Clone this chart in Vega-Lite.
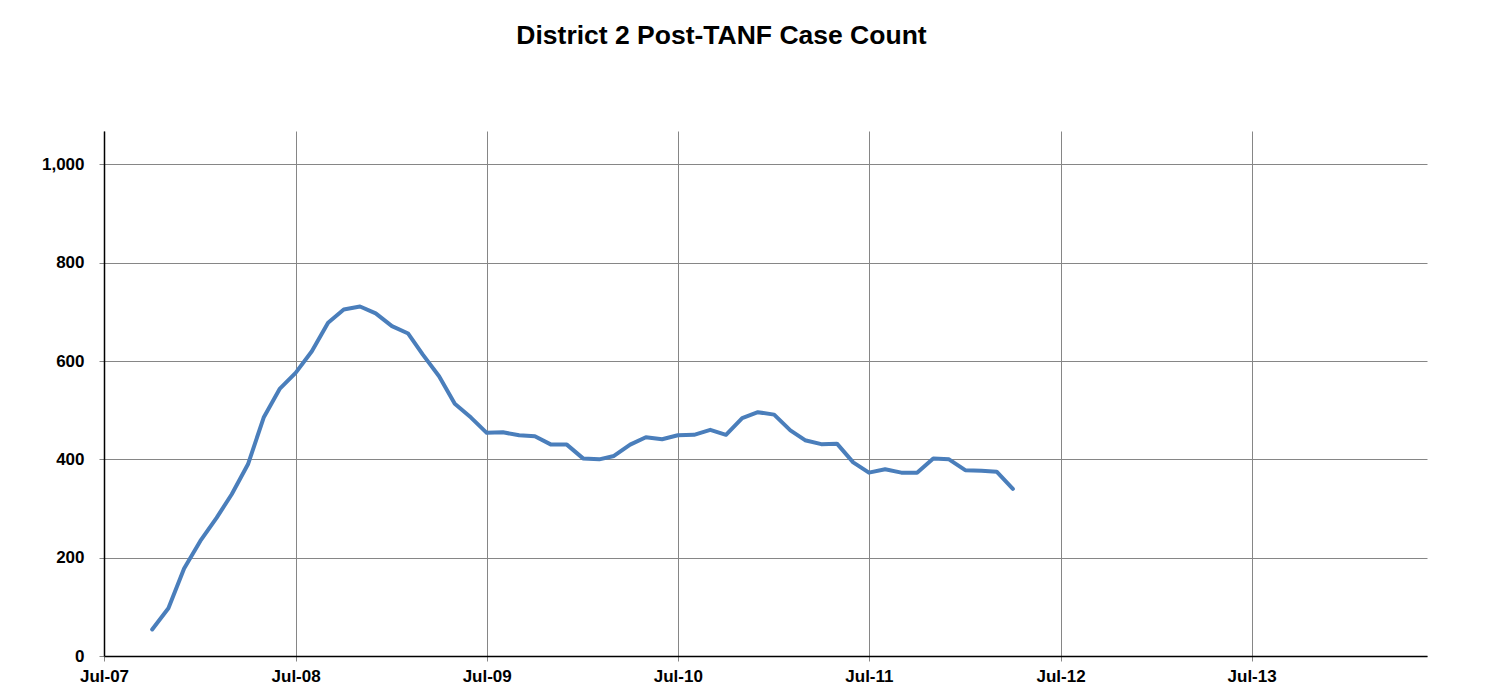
{
  "$schema": "https://vega.github.io/schema/vega-lite/v6.json",
  "autosize": "none",
  "width": 1323,
  "height": 525,
  "padding": {"left": 104, "top": 131, "right": 59, "bottom": 38},
  "background": "white",
  "title": {
    "text": "District 2 Post-TANF Case Count",
    "font": "Liberation Sans",
    "fontSize": 26.5,
    "fontWeight": "bold",
    "color": "black",
    "anchor": "middle",
    "dx": -44,
    "offset": 82
  },
  "config": {
    "view": {"stroke": null},
    "axis": {
      "labelFont": "Liberation Sans",
      "labelFontSize": 17,
      "labelFontWeight": "bold",
      "labelColor": "black",
      "gridColor": "#868686",
      "gridWidth": 1,
      "gridOpacity": 1,
      "domainColor": "black",
      "domainWidth": 1.5,
      "tickColor": "#868686",
      "tickSize": 5,
      "title": null
    }
  },
  "data": {
    "values": [
      {"date": "2007-10-01", "count": 54},
      {"date": "2007-11-01", "count": 97},
      {"date": "2007-12-01", "count": 178},
      {"date": "2008-01-01", "count": 234},
      {"date": "2008-02-01", "count": 281},
      {"date": "2008-03-01", "count": 329},
      {"date": "2008-04-01", "count": 390},
      {"date": "2008-05-01", "count": 485},
      {"date": "2008-06-01", "count": 544},
      {"date": "2008-07-01", "count": 576},
      {"date": "2008-08-01", "count": 620},
      {"date": "2008-09-01", "count": 678},
      {"date": "2008-10-01", "count": 705},
      {"date": "2008-11-01", "count": 711},
      {"date": "2008-12-01", "count": 697},
      {"date": "2009-01-01", "count": 671},
      {"date": "2009-02-01", "count": 656},
      {"date": "2009-03-01", "count": 613},
      {"date": "2009-04-01", "count": 569},
      {"date": "2009-05-01", "count": 513},
      {"date": "2009-06-01", "count": 485},
      {"date": "2009-07-01", "count": 454},
      {"date": "2009-08-01", "count": 455},
      {"date": "2009-09-01", "count": 449},
      {"date": "2009-10-01", "count": 447},
      {"date": "2009-11-01", "count": 430},
      {"date": "2009-12-01", "count": 430},
      {"date": "2010-01-01", "count": 402},
      {"date": "2010-02-01", "count": 400},
      {"date": "2010-03-01", "count": 407},
      {"date": "2010-04-01", "count": 430},
      {"date": "2010-05-01", "count": 445},
      {"date": "2010-06-01", "count": 441},
      {"date": "2010-07-01", "count": 449},
      {"date": "2010-08-01", "count": 450},
      {"date": "2010-09-01", "count": 460},
      {"date": "2010-10-01", "count": 450},
      {"date": "2010-11-01", "count": 484},
      {"date": "2010-12-01", "count": 496},
      {"date": "2011-01-01", "count": 491},
      {"date": "2011-02-01", "count": 459},
      {"date": "2011-03-01", "count": 439},
      {"date": "2011-04-01", "count": 431},
      {"date": "2011-05-01", "count": 432},
      {"date": "2011-06-01", "count": 394},
      {"date": "2011-07-01", "count": 373},
      {"date": "2011-08-01", "count": 380},
      {"date": "2011-09-01", "count": 373},
      {"date": "2011-10-01", "count": 373},
      {"date": "2011-11-01", "count": 402},
      {"date": "2011-12-01", "count": 400},
      {"date": "2012-01-01", "count": 378},
      {"date": "2012-02-01", "count": 377},
      {"date": "2012-03-01", "count": 375},
      {"date": "2012-04-01", "count": 340}
    ]
  },
  "mark": {"type": "line", "color": "#4A7EBB", "strokeWidth": 4, "strokeCap": "round", "strokeJoin": "round"},
  "encoding": {
    "x": {
      "field": "date",
      "type": "temporal",
      "scale": {
        "type": "utc",
        "domain": [
          {"year": 2007, "month": "jul", "date": 1, "utc": true},
          {"year": 2014, "month": "jun", "date": 1, "utc": true}
        ],
        "nice": false
      },
      "axis": {
        "values": [
          {"year": 2007, "month": "jul", "date": 1, "utc": true},
          {"year": 2008, "month": "jul", "date": 1, "utc": true},
          {"year": 2009, "month": "jul", "date": 1, "utc": true},
          {"year": 2010, "month": "jul", "date": 1, "utc": true},
          {"year": 2011, "month": "jul", "date": 1, "utc": true},
          {"year": 2012, "month": "jul", "date": 1, "utc": true},
          {"year": 2013, "month": "jul", "date": 1, "utc": true}
        ],
        "format": "%b-%y",
        "labelPadding": 7,
        "labelFlush": false,
        "labelOverlap": false,
        "grid": true
      }
    },
    "y": {
      "field": "count",
      "type": "quantitative",
      "scale": {"domain": [0, 1068], "nice": false, "zero": true},
      "axis": {
        "values": [0, 200, 400, 600, 800, 1000],
        "format": ",d",
        "labelPadding": 15,
        "grid": true
      }
    }
  }
}
